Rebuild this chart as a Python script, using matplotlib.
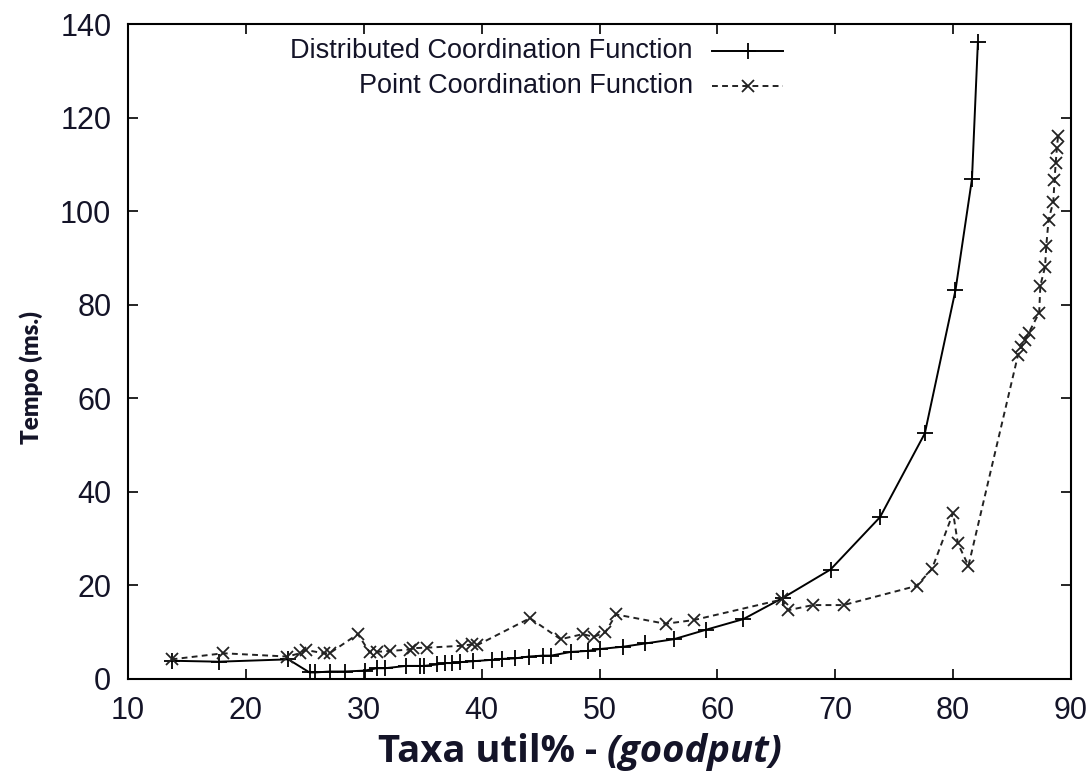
import matplotlib
matplotlib.use("Agg")
import matplotlib.pyplot as plt
from matplotlib.lines import Line2D

# Mean delay (ms) against goodput (%) for the two 802.11 access methods
dcf_x = [13.7, 17.7, 23.6, 25.4, 25.9, 27.1, 28.4, 30.1, 31.1, 31.8, 33.6, 34.8,
         35.1, 36.2, 36.9, 37.5, 38.2, 39.3, 40.9, 41.7, 42.8, 44.0, 45.2, 45.9,
         47.6, 49.0, 50.0, 52.0, 53.9, 56.3, 59.0, 62.2, 65.6, 69.6, 73.8, 77.6,
         80.2, 81.6, 82.1]
dcf_y = [3.9, 3.7, 4.2, 1.4, 1.4, 1.6, 1.6, 1.8, 2.3, 2.3, 2.8, 2.8,
         2.8, 3.1, 3.4, 3.4, 3.6, 3.8, 4.1, 4.3, 4.4, 4.8, 5.0, 5.0,
         5.8, 6.0, 6.4, 6.9, 7.6, 8.5, 10.5, 12.8, 17.4, 23.4, 34.6, 52.5,
         83.1, 106.9, 136.1]

pcf_x = [13.7, 18.1, 23.5, 24.6, 25.1, 26.6, 27.1, 29.5, 30.5, 31.1, 32.2, 33.9,
         34.2, 35.4, 38.3, 39.2, 39.6, 44.1, 46.7, 48.6, 49.5, 50.5, 51.4, 55.6,
         58.0, 65.5, 66.0, 68.1, 70.7, 76.9, 78.2, 80.0, 80.4, 81.3, 85.5, 85.8,
         86.1, 86.4, 87.3, 87.4, 87.8, 87.9, 88.1, 88.5, 88.6, 88.7, 88.8, 88.9]
pcf_y = [4.2, 5.5, 4.8, 5.5, 6.2, 5.5, 5.5, 9.6, 5.7, 5.8, 6.0, 6.3,
         6.6, 6.7, 7.1, 7.4, 7.2, 13.0, 8.5, 9.6, 9.0, 10.0, 13.8, 11.8,
         12.6, 17.0, 14.7, 15.8, 15.8, 19.9, 23.5, 35.5, 29.0, 24.2, 69.2, 71.0,
         72.5, 73.9, 78.3, 84.1, 88.1, 92.5, 98.2, 102.0, 106.6, 110.2, 113.4, 116.0]

series_labels = ["Distributed Coordination Function", "Point Coordination Function"]
x_ticks = [10, 20, 30, 40, 50, 60, 70, 80, 90]
y_ticks = [0, 20, 40, 60, 80, 100, 120, 140]

W, H = 1091, 778
fig = plt.figure(figsize=(W / 100, H / 100), dpi=100)
ax = fig.add_axes([128 / W, 1 - 679 / H, (1071 - 128) / W, (679 - 24) / H])

tick_font = "Liberation Sans"
text_color = "#141428"
dcf_style = dict(color="black", lw=1.4, marker="+", ms=11, mew=1.3)
pcf_style = dict(color="#222222", lw=1.4, ls=(0, (3, 2.2)), marker="x", ms=8, mew=1.3)

ax.plot(dcf_x, dcf_y, **dcf_style)
ax.plot(pcf_x, pcf_y, **pcf_style)

ax.set_xlim(10, 90)
ax.set_ylim(0, 140)
ax.set_xticks(x_ticks)
ax.set_yticks(y_ticks)
ax.tick_params(direction="in", length=7, width=1.2, top=True, right=True,
               labelsize=22)
ax.tick_params(axis="x", pad=12)
ax.tick_params(axis="y", pad=12)
for lab in ax.get_xticklabels() + ax.get_yticklabels():
    lab.set_fontfamily(tick_font)
    lab.set_color(text_color)
for s in ax.spines.values():
    s.set_linewidth(1.5)

# Key in the upper right, text right-aligned with the line sample after it
key_rows = [(0.9588, dcf_style), (0.9053, pcf_style)]
for (ky, style), label in zip(key_rows, series_labels):
    ax.text(0.599, ky, label, transform=ax.transAxes, ha="right", va="center",
            fontsize=19.5, fontfamily=tick_font, color=text_color)
    sample = Line2D([0.6193, 0.6570, 0.6946], [ky, ky, ky], transform=ax.transAxes,
                    markevery=[1], **style)
    ax.add_line(sample)

# Axis titles
fig.text(31 / W, 1 - 378 / H, "Tempo (ms.)", rotation=90, ha="center", va="center",
         fontsize=17.5, fontweight="heavy", fontfamily="Lato", color=text_color)
t1 = fig.text(378 / W, 1 - 752 / H, "Taxa util% - ", ha="left", va="center",
              fontsize=27.5, fontweight="bold", fontfamily="Open Sans", color=text_color)
ax.annotate("(goodput)", xy=(1, 0), xycoords=t1, va="bottom", ha="left",
            fontsize=27.5, fontweight="bold", fontstyle="italic", fontfamily="Open Sans",
            color=text_color, annotation_clip=False)

fig.savefig("out.png", dpi=100)
